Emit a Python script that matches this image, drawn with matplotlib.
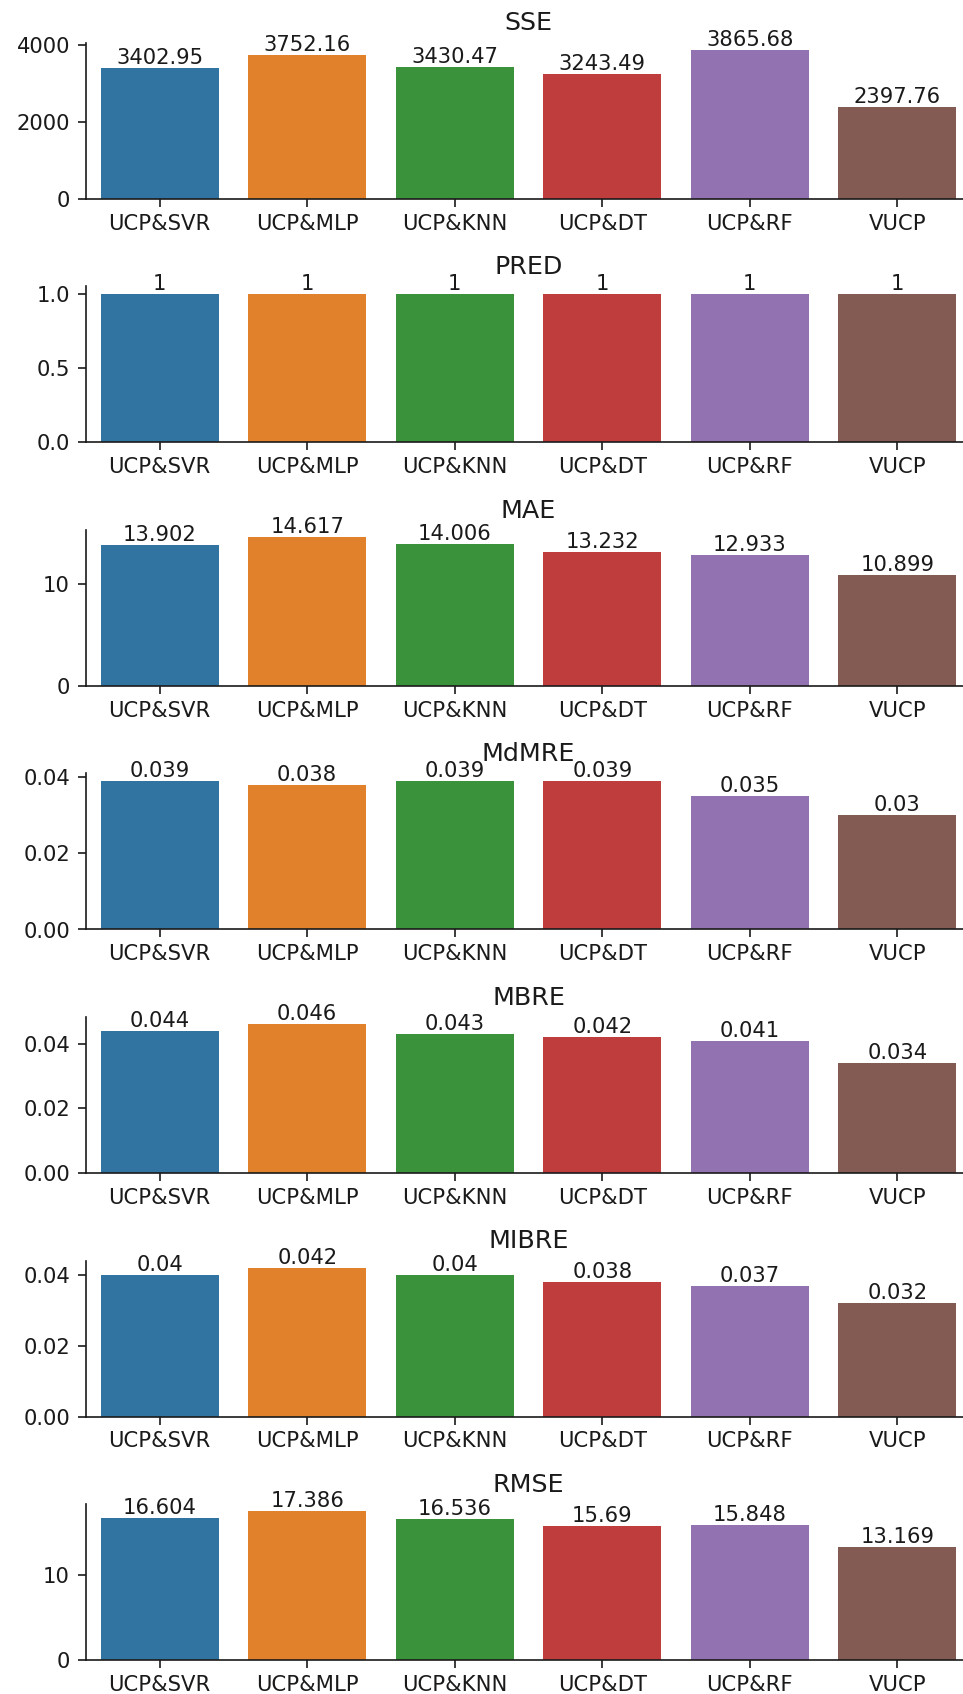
import matplotlib
matplotlib.use("Agg")
import matplotlib.pyplot as plt
import numpy as np

models = ["UCP&SVR", "UCP&MLP", "UCP&KNN", "UCP&DT", "UCP&RF", "VUCP"]

sse = [3402.95, 3752.16, 3430.47, 3243.49, 3865.68, 2397.76]
pred = [1, 1, 1, 1, 1, 1]
mae = [13.902, 14.617, 14.006, 13.232, 12.933, 10.899]
mdmre = [0.039, 0.038, 0.039, 0.039, 0.035, 0.03]
mbre = [0.044, 0.046, 0.043, 0.042, 0.041, 0.034]
mibre = [0.04, 0.042, 0.04, 0.038, 0.037, 0.032]
rmse = [16.604, 17.386, 16.536, 15.69, 15.848, 13.169]

metric_names = ["SSE", "PRED", "MAE", "MdMRE", "MBRE", "MIBRE", "RMSE"]
metric_values = [sse, pred, mae, mdmre, mbre, mibre, rmse]

# tab10 at seaborn's 0.75 saturation
colors = ["#3274a1", "#e1812c", "#3a923a", "#c03d3e", "#9372b2", "#845b53"]

W, H = 963, 1694
fig = plt.figure(figsize=(W / 100, H / 100), dpi=100)

label_fs = 15.2
title_fs = 18.3
text_color = "#1a1a1a"

ax_left = 86 / W
ax_width = 885 / W
ax_height = 156 / H
first_bottom_px = 199
step_px = 243.5

for i, (name, vals) in enumerate(zip(metric_names, metric_values)):
    bottom_px = first_bottom_px + i * step_px
    ax = fig.add_axes([ax_left, 1 - bottom_px / H, ax_width, ax_height])
    x = np.arange(len(models))
    bars = ax.bar(x, vals, width=0.8, color=colors, edgecolor="none")
    ax.set_xlim(-0.5, len(models) - 0.5)
    ax.set_xticks(x)
    ax.set_xticklabels(models)
    ax.bar_label(bars, labels=[f"{v:g}" for v in vals], fontsize=label_fs,
                 padding=0, color=text_color)
    ax.set_title(name, fontsize=title_fs, pad=9, color=text_color)
    for side in ("top", "right"):
        ax.spines[side].set_visible(False)
    for side in ("left", "bottom"):
        ax.spines[side].set_linewidth(1.2)
        ax.spines[side].set_color(text_color)
    ax.tick_params(axis="both", labelsize=label_fs, length=5.5, width=1.2,
                   colors=text_color)
    ax.tick_params(axis="x", pad=5)
    ax.tick_params(axis="y", pad=6)
    if name == "PRED":
        ax.set_yticks([0.0, 0.5, 1.0])

fig.savefig("out.png", dpi=100)
